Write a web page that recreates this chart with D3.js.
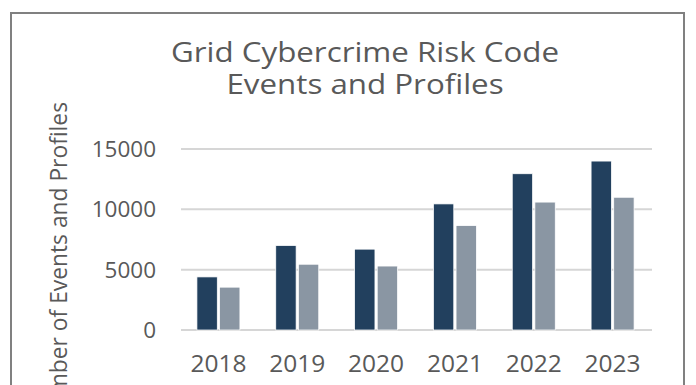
<!DOCTYPE html>
<html>
<head>
<meta charset="utf-8">
<script src="https://cdn.jsdelivr.net/npm/d3@7"></script>
<style>
  html, body { margin: 0; padding: 0; background: #fff; }
  svg { display: block; font-family: "Open Sans", sans-serif; }
</style>
</head>
<body>
<div id="chart"></div>
<script>
// Grid Cybercrime Risk Code events and profiles per year
const years = ["2018", "2019", "2020", "2021", "2022", "2023"];
const events = [4400, 7000, 6700, 10450, 12950, 14000];
const profiles = [3550, 5450, 5300, 8650, 10600, 11000];
const yTicks = [0, 5000, 10000, 15000];

const width = 696, height = 385;
const textColor = "#595959";

const svg = d3.select("#chart").append("svg")
  .attr("width", width)
  .attr("height", height);

svg.append("rect").attr("width", width).attr("height", height).attr("fill", "#fff");

// chart frame (runs past the bottom of the crop)
svg.append("path")
  .attr("d", "M11,400 V13 H684 V400")
  .attr("fill", "none")
  .attr("stroke", "#808080")
  .attr("stroke-width", 2);

// title - the source text is a bit wider than plain Open Sans, so stretch it
const title = svg.append("text")
  .attr("transform", "translate(365,0) scale(1.16,1)")
  .attr("text-anchor", "middle")
  .attr("fill", textColor)
  .attr("font-size", 27);
title.append("tspan").attr("x", 0).attr("y", 62).text("Grid Cybercrime Risk Code");
title.append("tspan").attr("x", 0).attr("y", 94).text("Events and Profiles");

const x = d3.scaleBand().domain(years).range([179, 652]).paddingInner(0).paddingOuter(0);
const y = d3.scaleLinear().domain([0, 15000]).range([330, 149]);

// gridlines
svg.append("g").selectAll("line").data(yTicks).join("line")
  .attr("x1", 181).attr("x2", 652)
  .attr("y1", d => y(d)).attr("y2", d => y(d))
  .attr("stroke", "#d6d6d6")
  .attr("stroke-width", 2);

// y tick labels
svg.append("g").selectAll("text").data(yTicks).join("text")
  .attr("x", 156)
  .attr("y", d => y(d) + 8)
  .attr("text-anchor", "end")
  .attr("fill", textColor)
  .attr("font-size", 22.5)
  .text(d => d);

// x labels
svg.append("g").selectAll("text").data(years).join("text")
  .attr("x", d => x(d) + x.bandwidth() / 2)
  .attr("y", 372)
  .attr("text-anchor", "middle")
  .attr("fill", textColor)
  .attr("font-size", 24.5)
  .text(d => d);

// bars
const sub = d3.scaleBand().domain(["events", "profiles"]).range([0, 43]).paddingInner(0.1);
const series = [
  { key: "events", values: events, color: "#22405e" },
  { key: "profiles", values: profiles, color: "#8a96a3" }
];
const groupOffset = (x.bandwidth() - 43) / 2;

series.forEach(s => {
  svg.append("g").selectAll("rect").data(years).join("rect")
    .attr("x", (d) => x(d) + groupOffset + sub(s.key))
    .attr("y", (d, i) => y(s.values[i]))
    .attr("width", sub.bandwidth())
    .attr("height", (d, i) => y(0) - y(s.values[i]))
    .attr("fill", s.color)
    .attr("stroke", "#fff")
    .attr("stroke-width", 0.75);
});

// y axis title, cut off at the bottom like the reference
svg.append("text")
  .attr("transform", "translate(67,102) rotate(-90)")
  .attr("text-anchor", "end")
  .attr("fill", textColor)
  .attr("font-size", 22.8)
  .text("Number of Events and Profiles");
</script>
</body>
</html>
